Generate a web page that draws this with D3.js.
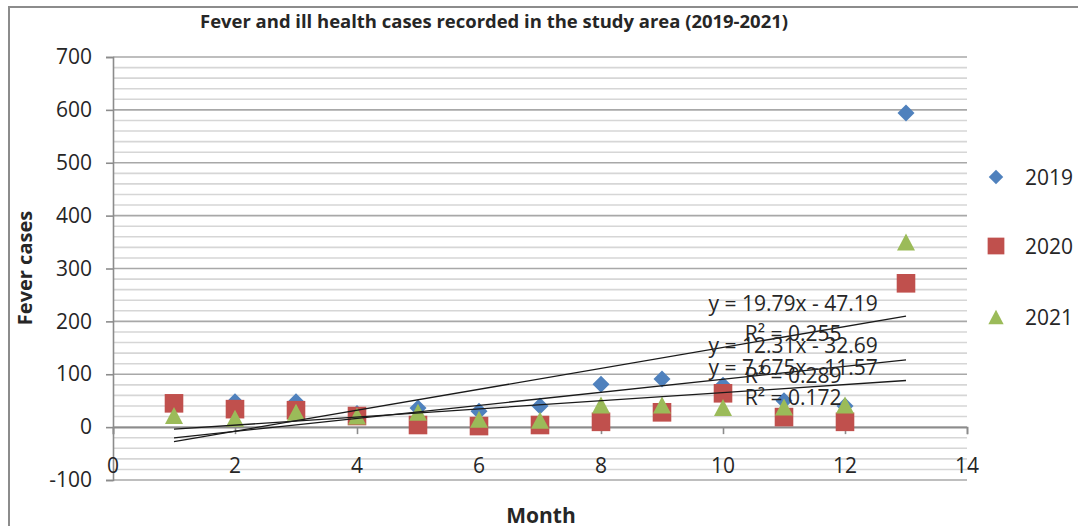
<!DOCTYPE html>
<html>
<head>
<meta charset="utf-8">
<script src="https://cdn.jsdelivr.net/npm/d3@7"></script>
<style>
  html, body { margin: 0; padding: 0; background: #fff; }
  svg { display: block; }
  text { font-family: "Open Sans", "Noto Sans", sans-serif; fill: #262626; }
</style>
</head>
<body>
<svg id="chart" width="1078" height="526"></svg>
<script>
// ---- data ----
const months = [1, 2, 3, 4, 5, 6, 7, 8, 9, 10, 11, 12, 13];
const series2019 = [45, 48, 48, 26, 36, 30, 40, 81, 91, 79, 50, 40, 594];
const series2020 = [45, 34, 32, 21, 4, 2, 4, 10, 28, 64, 19, 10, 272];
const series2021 = [22, 17, 28, 21, 28, 15, 13, 42, 42, 37, 38, 42, 350];
const seriesNames = ["2019", "2020", "2021"];
const seriesColors = ["#4F81BD", "#C0504D", "#9BBB59"];
const seriesShapes = ["diamond", "square", "triangle"];
const trendSlopes = [19.79, 7.675, 12.31];
const trendIntercepts = [-47.19, -11.57, -32.69];
const trendEquations = ["y = 19.79x - 47.19", "y = 7.675x - 11.57", "y = 12.31x - 32.69"];
const trendR2 = ["R² = 0.255", "R² = 0.172", "R² = 0.289"];
const xTicks = [0, 2, 4, 6, 8, 10, 12, 14];
const yTicks = [-100, 0, 100, 200, 300, 400, 500, 600, 700];
const yMinorStep = 20;
const titleText = "Fever and ill health cases recorded in the study area (2019-2021)";
const xTitle = "Month";
const yTitle = "Fever cases";

const allSeries = [series2019, series2020, series2021];

const svg = d3.select("#chart");

// outer chart border
svg.append("path")
  .attr("d", "M9,526 L9,7 L1078,7")
  .attr("fill", "none").attr("stroke", "#8c8c8c").attr("stroke-width", 2);

const x = d3.scaleLinear().domain([0, 14]).range([113, 967]);
const y = d3.scaleLinear().domain([-100, 700]).range([480, 57]);

// gridlines (minor then major)
const minorVals = d3.range(-100, 700 + 1e-9, yMinorStep).filter(v => yTicks.indexOf(v) < 0);
svg.append("g").selectAll("line").data(minorVals).join("line")
  .attr("x1", x(0)).attr("x2", x(14))
  .attr("y1", d => y(d)).attr("y2", d => y(d))
  .attr("stroke", "#d6d6d6").attr("stroke-width", 1.6);
svg.append("g").selectAll("line").data(yTicks).join("line")
  .attr("x1", x(0)).attr("x2", x(14))
  .attr("y1", d => y(d)).attr("y2", d => y(d))
  .attr("stroke", "#a8a8a8").attr("stroke-width", 1.6);

// y axis
const yAxis = svg.append("g").attr("transform", `translate(${x(0)},0)`)
  .call(d3.axisLeft(y).tickValues(yTicks).tickSize(7).tickPadding(14).tickFormat(d => String(d)));
yAxis.select(".domain").attr("stroke", "#8c8c8c").attr("stroke-width", 1.6);
yAxis.selectAll(".tick line").attr("stroke", "#8c8c8c").attr("stroke-width", 1.6);
yAxis.selectAll(".tick text")
  .style("font-family", '"Open Sans", sans-serif').style("font-size", "21px").attr("fill", "#262626");

// x axis at y = 0
const xAxis = svg.append("g").attr("transform", `translate(0,${y(0)})`)
  .call(d3.axisBottom(x).tickValues(xTicks).tickSize(7).tickFormat(d => String(d)));
xAxis.select(".domain").attr("stroke", "#8c8c8c").attr("stroke-width", 1.6);
xAxis.selectAll(".tick line").attr("stroke", "#8c8c8c").attr("stroke-width", 1.6);
xAxis.selectAll(".tick text").remove();
// x tick labels near bottom of plot area
svg.append("g").selectAll("text").data(xTicks).join("text")
  .attr("x", d => x(d)).attr("y", y(-100) - 7)
  .attr("text-anchor", "middle")
  .style("font-size", "21px")
  .text(d => d);

// markers
function shapePath(shape) {
  if (shape === "diamond") return "M0,-8.5 L8.5,0 L0,8.5 L-8.5,0 Z";
  if (shape === "square") return "M-9.3,-9.3 L9.3,-9.3 L9.3,9.3 L-9.3,9.3 Z";
  return "M0,-8.5 L9,8.5 L-9,8.5 Z";
}
allSeries.forEach((vals, si) => {
  svg.append("g").selectAll("path").data(vals).join("path")
    .attr("d", shapePath(seriesShapes[si]))
    .attr("transform", (d, i) => `translate(${x(months[i])},${y(d)})`)
    .attr("fill", seriesColors[si]);
});

// trend lines
const xStart = d3.min(months), xEnd = d3.max(months);
trendSlopes.forEach((m, i) => {
  const b = trendIntercepts[i];
  svg.append("line")
    .attr("x1", x(xStart)).attr("y1", y(m * xStart + b))
    .attr("x2", x(xEnd)).attr("y2", y(m * xEnd + b))
    .attr("stroke", "#1a1a1a").attr("stroke-width", 1.3);
});

// trend labels (equation + R²)
const labelX = 11.15;
const eqBaselines = [310.5, 374.5, 352.5];
const r2Baselines = [340.5, 404.5, 382.5];
trendEquations.forEach((t, i) => {
  svg.append("text").attr("x", x(labelX)).attr("y", eqBaselines[i])
    .attr("text-anchor", "middle").style("font-size", "21px").text(t);
  svg.append("text").attr("x", x(labelX)).attr("y", r2Baselines[i])
    .attr("text-anchor", "middle").style("font-size", "21px").text(trendR2[i]);
});

// legend
const legendY = [177, 246, 317];
seriesNames.forEach((name, i) => {
  const s = seriesShapes[i];
  const scale = s === "square" ? 0.9 : 0.85;
  svg.append("path").attr("d", shapePath(s))
    .attr("transform", `translate(996,${legendY[i]}) scale(${scale})`)
    .attr("fill", seriesColors[i]);
  svg.append("text").attr("x", 1025).attr("y", legendY[i] + 7.5)
    .style("font-size", "21px").text(name);
});

// title
svg.append("text")
  .attr("x", 200).attr("y", 28)
  .attr("textLength", 588).attr("lengthAdjust", "spacingAndGlyphs")
  .style("font-size", "18px").style("font-weight", "bold").attr("fill", "#000")
  .text(titleText);

// axis titles
svg.append("text")
  .attr("x", 541).attr("y", 523)
  .attr("text-anchor", "middle")
  .style("font-size", "21px").style("font-weight", "bold").attr("fill", "#000")
  .text(xTitle);
svg.append("text")
  .attr("transform", "translate(32,268) rotate(-90)")
  .attr("text-anchor", "middle")
  .style("font-size", "20px").style("font-weight", "bold").attr("fill", "#000")
  .text(yTitle);
</script>
</body>
</html>
